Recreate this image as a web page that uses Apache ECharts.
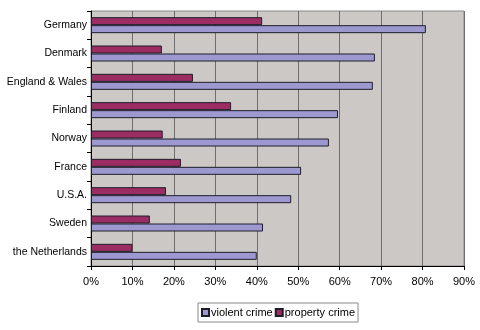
<!DOCTYPE html>
<html><head><meta charset="utf-8">
<script src="https://cdn.jsdelivr.net/npm/echarts@6/dist/echarts.min.js"></script>
<style>html,body{margin:0;padding:0;background:#fff}#c{width:480px;height:330px}</style>
</head><body><div id="c"></div>
<script>
const categories = ["Germany","Denmark","England & Wales","Finland","Norway","France","U.S.A.","Sweden","the Netherlands"];
const violentCrime = [80.8, 68.5, 68.0, 59.6, 57.4, 50.7, 48.3, 41.5, 40.0];
const propertyCrime = [41.3, 17.1, 24.6, 33.8, 17.3, 21.7, 18.1, 14.2, 10.0];
const xTicks = [0,10,20,30,40,50,60,70,80,90];

const chart = echarts.init(document.getElementById('c'), null, {renderer:'canvas'});
const font = 'Liberation Sans, Arial, sans-serif';
chart.setOption({
  animation:false,
  backgroundColor:'#ffffff',
  grid:{left:91,right:16,top:11,bottom:64,containLabel:false,outerBoundsMode:'none',show:true,backgroundColor:'#cbc8c5',borderColor:'#8a8a8a',borderWidth:1},
  legend:{
    data:['violent crime','property crime'],
    left:198, top:303,
    borderColor:'#8a8a8a', borderWidth:1, padding:[4,3,4,3],
    itemWidth:7, itemHeight:7, itemGap:2,
    textStyle:{fontFamily:font,fontSize:11,color:'#000',padding:[0,0,0,-3]},
    icon:'rect'
  },
  xAxis:{
    type:'value', min:0, max:90, interval:10,
    axisLine:{show:true,lineStyle:{color:'#000',width:1}},
    axisTick:{show:true,length:4,lineStyle:{color:'#000'}},
    axisLabel:{formatter:v=>xTicks.includes(v)?v+'%':'',fontFamily:font,fontSize:11,color:'#000',margin:10},
    splitLine:{show:true,lineStyle:{color:'#6e6e6e',width:1}}
  },
  yAxis:{
    type:'category', data:categories, inverse:true,
    axisLine:{show:true,lineStyle:{color:'#000',width:1}},
    axisTick:{show:true,length:4,lineStyle:{color:'#000'}},
    axisLabel:{fontFamily:font,fontSize:10.5,color:'#000',margin:4},
    splitLine:{show:false}
  },
  series:[
    {name:'property crime',type:'bar',data:propertyCrime,barWidth:8,barGap:'0%',
     itemStyle:{color:'#9b2d62',borderColor:'#1e1e2a',borderWidth:1}},
    {name:'violent crime',type:'bar',data:violentCrime,barWidth:8,barGap:'0%',
     itemStyle:{color:'#9d98d0',borderColor:'#1e1e2a',borderWidth:1}}
  ]
});
</script></body></html>
